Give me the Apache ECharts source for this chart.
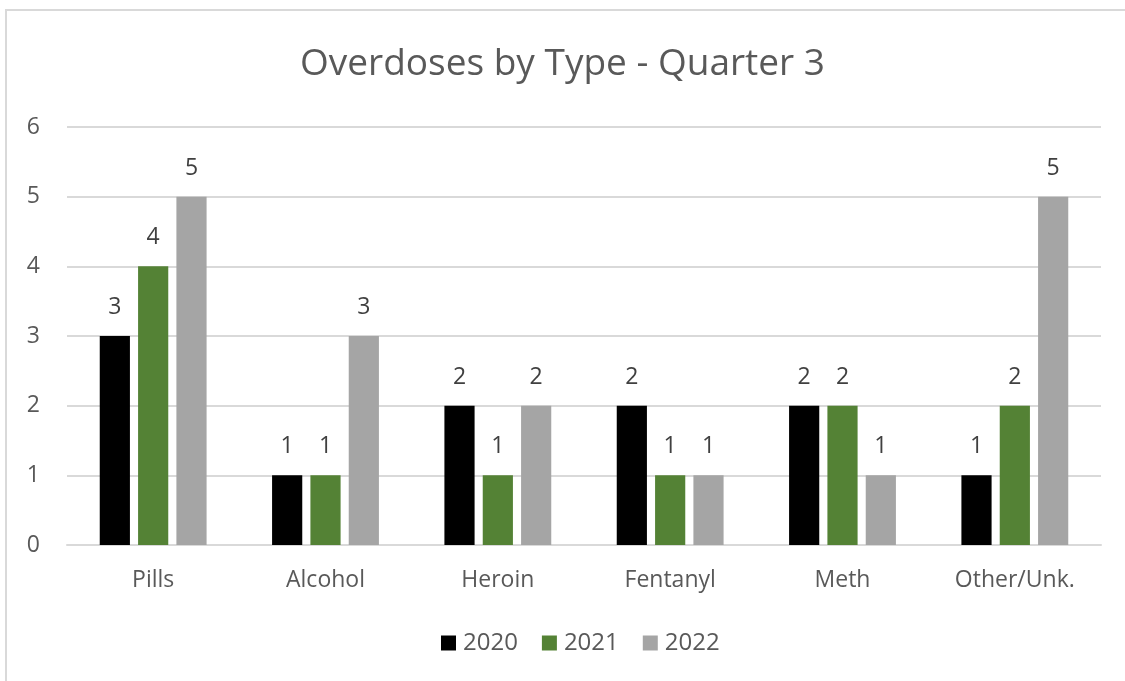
<!DOCTYPE html>
<html>
<head>
<meta charset="utf-8">
<script src="https://cdn.jsdelivr.net/npm/echarts@6/dist/echarts.min.js"></script>
<style>
  html, body { margin: 0; padding: 0; background: #ffffff; }
  #chart { width: 1125px; height: 681px; }
</style>
</head>
<body>
<div id="chart"></div>
<script>
// Overdose counts for the third quarter, grouped by substance type
const categories = ['Pills', 'Alcohol', 'Heroin', 'Fentanyl', 'Meth', 'Other/Unk.'];
const years = ['2020', '2021', '2022'];
const values2020 = [3, 1, 2, 2, 2, 1];
const values2021 = [4, 1, 1, 1, 2, 2];
const values2022 = [5, 3, 2, 1, 1, 5];
const yTicks = { min: 0, max: 6, interval: 1 };

const colors = ['#000000', '#548235', '#A5A5A5'];
const seriesValues = [values2020, values2021, values2022];
const font = '"Open Sans", "Liberation Sans", sans-serif';

const chart = echarts.init(document.getElementById('chart'), null, { renderer: 'canvas' });

chart.setOption({
  backgroundColor: '#ffffff',
  animation: false,
  color: colors,
  title: {
    text: 'Overdoses by Type - Quarter 3',
    left: 'center',
    top: 41,
    textStyle: { fontFamily: font, fontSize: 37, fontWeight: 'normal', color: '#595959' }
  },
  graphic: [{
    type: 'rect',
    shape: { x: 6, y: 10, width: 1200, height: 800 },
    style: { fill: 'none', stroke: '#d9d9d9', lineWidth: 2 },
    silent: true
  }],
  legend: {
    data: years,
    bottom: 21,
    left: 436,
    itemWidth: 15,
    itemHeight: 15,
    itemGap: 24,
    icon: 'rect',
    textStyle: { fontFamily: font, fontSize: 24, color: '#595959', padding: [0, 0, 0, 2] }
  },
  grid: { left: 67, right: 24, top: 127, bottom: 136, containLabel: false },
  xAxis: {
    type: 'category',
    data: categories,
    axisLine: { lineStyle: { color: '#d9d9d9', width: 2 } },
    axisTick: { show: false },
    axisLabel: { fontFamily: font, fontSize: 23, color: '#595959', margin: 24 }
  },
  yAxis: {
    type: 'value',
    min: yTicks.min,
    max: yTicks.max,
    interval: yTicks.interval,
    axisLine: { show: false },
    axisTick: { show: false },
    splitLine: { lineStyle: { color: '#d9d9d9', width: 2 } },
    axisLabel: { fontFamily: font, fontSize: 23, color: '#595959', margin: 27 }
  },
  series: years.map((y, i) => ({
    name: y,
    type: 'bar',
    data: seriesValues[i],
    barGap: '27%',
    barCategoryGap: '38%',
    itemStyle: { color: colors[i] },
    label: {
      show: true,
      position: 'top',
      distance: 17,
      fontFamily: font,
      fontSize: 23,
      color: '#404040'
    }
  }))
});
</script>
</body>
</html>
